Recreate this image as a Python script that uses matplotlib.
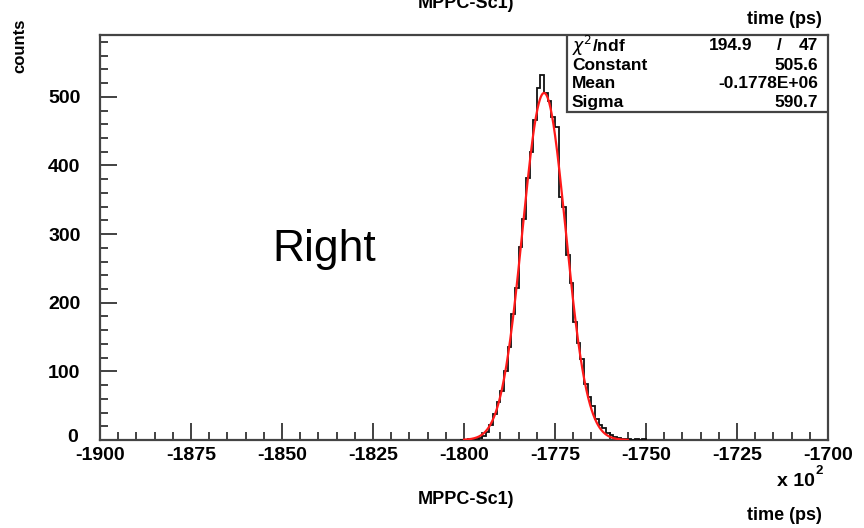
import numpy as np
import matplotlib
matplotlib.use("Agg")
import matplotlib.pyplot as plt
from matplotlib.patches import Rectangle
from matplotlib.ticker import MultipleLocator
import matplotlib.transforms as mtrans

plt.rcParams["axes.unicode_minus"] = False

# ---- data (x in units of 10^2 ps) ----
bin_start = -1801
bin_width = 1
counts = [0, 0, 1, 0, 2, 3, 6, 12, 22, 38, 56, 72, 101, 135, 183, 222, 281, 322,
          381, 420, 466, 513, 532, 506, 494, 470, 456, 354, 340, 270, 228, 172,
          141, 118, 82, 63, 49, 31, 22, 18, 10, 7, 4, 3, 2, 1, 2, 0, 1, 0, 1]
fit_constant = 505.6
fit_mean = -1778.0      # -0.1778E+06 ps
fit_sigma = 5.907       # 590.7 ps
fit_range = (-1800, -1755)
x_ticks = [-1900, -1875, -1850, -1825, -1800, -1775, -1750, -1725, -1700]
y_ticks = [0, 100, 200, 300, 400, 500]
stats_labels = ["Constant", "Mean", "Sigma"]
stats_values = ["505.6", "-0.1778E+06", "590.7"]
chi2_text = ("194.9", "47")

W, H = 864, 528
fig = plt.figure(figsize=(W / 100, H / 100), dpi=100)
ax = fig.add_axes([100 / W, 1 - 440 / H, 728 / W, 405 / H])

FAM = ["Liberation Sans", "DejaVu Sans"]
FB = dict(family=FAM, weight="bold")

edges = bin_start + bin_width * np.arange(len(counts) + 1)
ax.stairs(counts, edges, color="#111111", lw=1.3, zorder=3)
xf = np.linspace(fit_range[0], fit_range[1], 400)
yf = fit_constant * np.exp(-0.5 * ((xf - fit_mean) / fit_sigma) ** 2)
ax.plot(xf, yf, color="#ff1a1a", lw=1.6, zorder=4)

ax.set_xlim(-1900, -1700)
ax.set_ylim(0, 590)
ax.set_xticks(x_ticks)
ax.set_yticks(y_ticks)
ax.xaxis.set_minor_locator(MultipleLocator(5))
ax.yaxis.set_minor_locator(MultipleLocator(20))
ax.tick_params(which="both", direction="in", top=False, right=False, color="#333333", width=1.3)
ax.tick_params(which="major", length=12)
ax.tick_params(which="minor", length=6)
ax.tick_params(axis="x", pad=5)
ax.tick_params(axis="y", pad=14)
for lab in ax.get_xticklabels() + ax.get_yticklabels():
    lab.set_fontfamily(FAM)
    lab.set_fontweight("bold")
    lab.set_fontsize(14)
# lift the "0" label slightly like the reference
ylabs = ax.get_yticklabels()
ylabs[0].set_transform(ylabs[0].get_transform() + mtrans.ScaledTranslation(-3 / 100, 5 / 100, fig.dpi_scale_trans))
for s in ax.spines.values():
    s.set_color("#444444")
    s.set_linewidth(1.6)

# stats box
bx0 = (567 - 100) / 728
by0 = (440 - 112) / 405
ax.add_patch(Rectangle((bx0, by0), 1 - bx0, 1 - by0, transform=ax.transAxes,
                       fill=True, facecolor="white", edgecolor="#444444", lw=1.6, zorder=6))

def fx(px):
    return px / W

def fy(py):
    return 1 - py / H

fs = 12.5
fig.text(fx(572), fy(46), r"$\chi^2$/ndf", fontsize=fs, va="center", ha="left", zorder=7, **FB)
fig.text(fx(752), fy(46), chi2_text[0], fontsize=fs, va="center", ha="right", zorder=7, **FB)
fig.text(fx(779), fy(46), "/", fontsize=fs, va="center", ha="center", zorder=7, **FB)
fig.text(fx(818), fy(46), chi2_text[1], fontsize=fs, va="center", ha="right", zorder=7, **FB)
for i, (l, v) in enumerate(zip(stats_labels, stats_values)):
    yy = 65 + i * 18.7
    fig.text(fx(572), fy(yy), l, fontsize=fs, va="center", ha="left", zorder=7, **FB)
    fig.text(fx(818), fy(yy), v, fontsize=fs, va="center", ha="right", zorder=7, **FB)

# titles and annotations
fig.text(fx(466), fy(4), "MPPC-Sc1)", fontsize=13, ha="center", va="center", **FB)
fig.text(fx(822), fy(19), "time (ps)", fontsize=13, ha="right", va="center", **FB)
fig.text(fx(20), fy(46), "counts", fontsize=12, ha="center", va="center", rotation=90, **FB)
fig.text(fx(466), fy(500), "MPPC-Sc1)", fontsize=13, ha="center", va="center", **FB)
fig.text(fx(822), fy(516), "time (ps)", fontsize=13, ha="right", va="center", **FB)
fig.text(fx(815), fy(481), "x 10", fontsize=14, ha="right", va="center", **FB)
fig.text(fx(816), fy(471), "2", fontsize=9.5, ha="left", va="center", **FB)
fig.text(fx(272), fy(249), "Right", fontsize=32, ha="left", va="center",
         family=["Liberation Sans", "DejaVu Sans"])

fig.savefig("out.png", dpi=100)
